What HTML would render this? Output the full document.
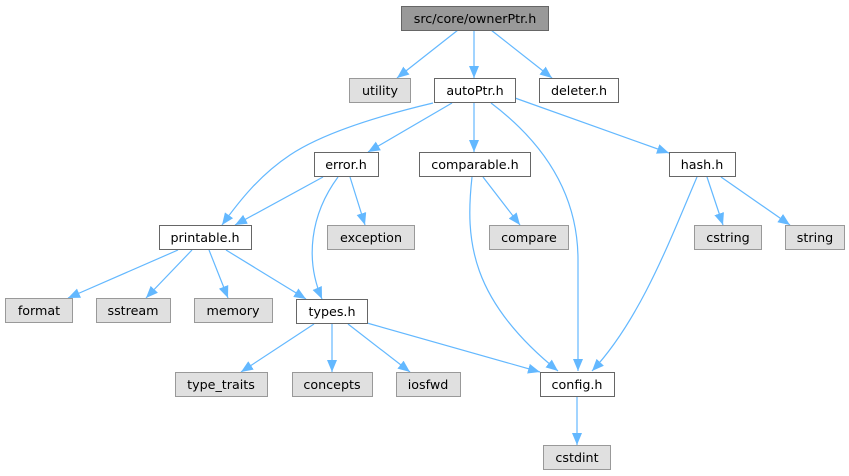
<!DOCTYPE html>
<html><head><meta charset="utf-8"><style>
html,body{margin:0;padding:0;background:#fff;}
svg{display:block;}
text{font-family:"DejaVu Sans","Liberation Sans",sans-serif;font-size:12.7px;fill:#000;text-anchor:middle;}
.w{fill:#fff;stroke:#666;stroke-width:1;}
.g{fill:#e0e0e0;stroke:#999;stroke-width:1;}
.r{fill:#999;stroke:#666;stroke-width:1;}
.e{fill:none;stroke:#63b8ff;stroke-width:1.2;marker-end:url(#a);}
</style></head><body>
<svg width="849" height="476" viewBox="0 0 849 476" xmlns="http://www.w3.org/2000/svg">
<defs><marker id="a" markerUnits="userSpaceOnUse" markerWidth="12" markerHeight="10" refX="12" refY="5" orient="auto"><path d="M0,0 L12,5 L0,10 z" fill="#63b8ff"/></marker></defs>
<path class="e" d="M458,30 L397,78"/>
<path class="e" d="M474,30 L474,78"/>
<path class="e" d="M491,30 L552,78"/>
<path class="e" d="M452,103 L368,152"/>
<path class="e" d="M433,103 C370,118 320,135 290,155 C260,175 240,200 222,225"/>
<path class="e" d="M474,103 L474,152"/>
<path class="e" d="M491,103 C540,140 578,190 578,260 L578,371"/>
<path class="e" d="M515,98 L669,153"/>
<path class="e" d="M350,177 L365,225"/>
<path class="e" d="M338,177 C310,215 305,260 322,299"/>
<path class="e" d="M323,177 L235,225"/>
<path class="e" d="M483,177 L520,225"/>
<path class="e" d="M472,177 C465,240 470,300 558,371"/>
<path class="e" d="M707,177 L723,225"/>
<path class="e" d="M721,177 L790,225"/>
<path class="e" d="M697,177 C670,240 640,320 592,371"/>
<path class="e" d="M178,250 L68,298"/>
<path class="e" d="M192,250 L146,298"/>
<path class="e" d="M209,250 L228,298"/>
<path class="e" d="M226,250 L306,299"/>
<path class="e" d="M314,324 L241,372"/>
<path class="e" d="M332,324 L332,372"/>
<path class="e" d="M348,324 L410,372"/>
<path class="e" d="M367,323 L540,372"/>
<path class="e" d="M577,397 L577,445"/>

<rect class="r" x="401.5" y="6.5" width="147" height="24"/><text x="475" y="23">src/core/ownerPtr.h</text>
<rect class="g" x="349.5" y="78.5" width="61" height="24"/><text x="380" y="95">utility</text>
<rect class="w" x="434.5" y="78.5" width="81" height="24"/><text x="475" y="95">autoPtr.h</text>
<rect class="w" x="539.5" y="78.5" width="79" height="24"/><text x="579" y="95">deleter.h</text>
<rect class="w" x="314.5" y="152.5" width="64" height="24"/><text x="346" y="169">error.h</text>
<rect class="w" x="419.5" y="152.5" width="111" height="24"/><text x="475" y="169">comparable.h</text>
<rect class="w" x="669.5" y="152.5" width="66" height="24"/><text x="702" y="169">hash.h</text>
<rect class="w" x="159.5" y="225.5" width="92" height="24"/><text x="205" y="242">printable.h</text>
<rect class="g" x="327.5" y="225.5" width="87" height="24"/><text x="371" y="242">exception</text>
<rect class="g" x="489.5" y="225.5" width="79" height="24"/><text x="529" y="242">compare</text>
<rect class="g" x="694.5" y="225.5" width="67" height="24"/><text x="728" y="242">cstring</text>
<rect class="g" x="785.5" y="225.5" width="59" height="24"/><text x="815" y="242">string</text>
<rect class="g" x="5.5" y="298.5" width="67" height="24"/><text x="39" y="315">format</text>
<rect class="g" x="96.5" y="298.5" width="74" height="24"/><text x="133" y="315">sstream</text>
<rect class="g" x="194.5" y="298.5" width="78" height="24"/><text x="233" y="315">memory</text>
<rect class="w" x="296.5" y="299.5" width="71" height="24"/><text x="332" y="316">types.h</text>
<rect class="g" x="175.5" y="372.5" width="92" height="24"/><text x="221" y="389">type_traits</text>
<rect class="g" x="292.5" y="372.5" width="80" height="24"/><text x="332" y="389">concepts</text>
<rect class="g" x="396.5" y="372.5" width="64" height="24"/><text x="428" y="389">iosfwd</text>
<rect class="w" x="540.5" y="372.5" width="74" height="24"/><text x="577" y="389">config.h</text>
<rect class="g" x="543.5" y="445.5" width="67" height="24"/><text x="577" y="462">cstdint</text>
</svg>
</body></html>
